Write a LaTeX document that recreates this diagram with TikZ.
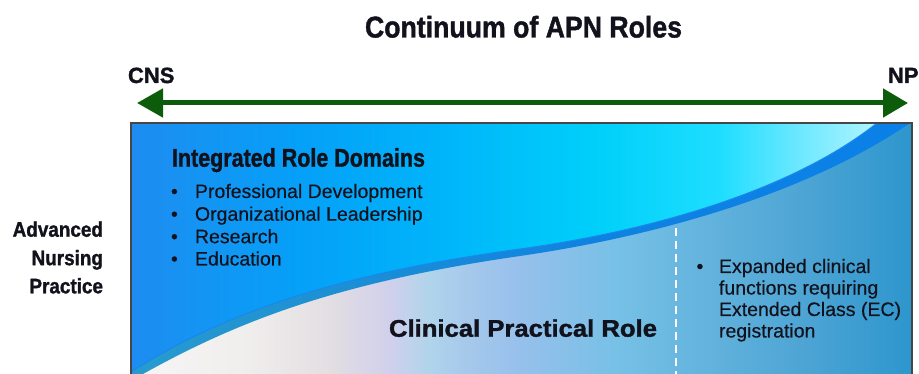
\documentclass[tikz,border=0pt]{standalone}
\usepackage{fontspec}
\setmainfont{Liberation Sans}
\newfontfamily\heavyfont{Liberation Sans}[BoldFeatures={FakeBold=1.4}]
\newfontfamily\bodyfont{Liberation Sans}[FakeBold=0.35]
\usetikzlibrary{arrows.meta}

% palette
\definecolor{ink}{RGB}{18,18,28}
\definecolor{arrowgreen}{RGB}{12,92,12}
\definecolor{frame}{RGB}{70,70,72}
\definecolor{edgeblue}{RGB}{25,135,235}
% upper (integrated domains) region
\definecolor{tpA}{RGB}{30,140,240}
\definecolor{tpB}{RGB}{5,160,248}
\definecolor{tpC}{RGB}{0,182,250}
\definecolor{tpD}{RGB}{0,208,250}
\definecolor{tpE}{RGB}{30,222,255}
\definecolor{tpF}{RGB}{110,232,255}
\definecolor{tpG}{RGB}{175,245,255}
\definecolor{tpH}{RGB}{190,248,255}
% band between the two curves
\definecolor{bdA}{RGB}{40,155,205}
\definecolor{bdB}{RGB}{25,140,215}
\definecolor{bdC}{RGB}{15,130,225}
\definecolor{bdD}{RGB}{10,128,232}
% lower (clinical practice) region
\definecolor{lwA}{RGB}{247,245,245}
\definecolor{lwB}{RGB}{240,237,237}
\definecolor{lwC}{RGB}{226,222,226}
\definecolor{lwD}{RGB}{208,208,236}
\definecolor{lwE}{RGB}{175,212,235}
\definecolor{lwF}{RGB}{165,200,235}
\definecolor{lwG}{RGB}{150,192,236}
\definecolor{lwH}{RGB}{118,192,230}
\definecolor{lwI}{RGB}{100,180,222}
\definecolor{lwJ}{RGB}{78,165,212}
\definecolor{lwK}{RGB}{45,150,205}

% stops in the 25bp..75bp window, which spans the box width
\pgfdeclarehorizontalshading{topsh}{100bp}{color(0bp)=(tpA); color(25bp)=(tpA);
  color(35.82bp)=(tpB); color(45.42bp)=(tpC); color(55.02bp)=(tpD);
  color(62.71bp)=(tpE); color(67.83bp)=(tpF); color(72.76bp)=(tpG);
  color(75bp)=(tpH); color(100bp)=(tpH)}
\pgfdeclarehorizontalshading{bandsh}{100bp}{color(0bp)=(bdA); color(25bp)=(bdA);
  color(42.2bp)=(bdB); color(55bp)=(bdC); color(75bp)=(bdD); color(100bp)=(bdD)}
\pgfdeclarehorizontalshading{lowsh}{100bp}{color(0bp)=(lwA); color(25bp)=(lwA);
  color(32.62bp)=(lwB); color(37.74bp)=(lwC); color(41.58bp)=(lwD);
  color(44.14bp)=(lwE); color(46.7bp)=(lwF); color(49.9bp)=(lwG);
  color(56.31bp)=(lwH); color(61.43bp)=(lwI); color(67.83bp)=(lwJ);
  color(75bp)=(lwK); color(100bp)=(lwK)}

\newcommand\fitwidth[2]{\resizebox{#1}{\height}{#2}}
\newcommand\itemdot[1]{\makebox[#1][l]{\textbullet}}

\begin{document}
\begin{tikzpicture}[x=1pt,y=-1pt,
    lbl/.style={inner sep=0pt, outer sep=0pt, anchor=base west, text=ink},
    lblr/.style={lbl, anchor=base east},
    heavy/.style={font=\heavyfont\bfseries\fontsize{22}{22}\selectfont},
    side/.style={font=\heavyfont\bfseries\fontsize{21}{21}\selectfont},
    body/.style={font=\bodyfont\fontsize{19.5}{19.5}\selectfont},
    greenarrow/.style={draw=arrowgreen, line width=5pt,
      {Triangle[length=26pt,width=28pt]}-{Triangle[length=25pt,width=28pt]}},
    frameline/.style={draw=frame, line width=1.5pt},
    divider/.style={draw=white, line width=2.6pt, dash pattern=on 8pt off 5pt}]
  \useasboundingbox (0,0) rectangle (919,374);

  % ---- the three filled regions of the box ----
  \shade[shading=lowsh] (131,123) rectangle (912,380);
  \begin{scope}
    \clip (143,374) .. controls (240,320) and (340,282) .. (520,256)
          .. controls (620,241.6) and (790,205) .. (910,123)
          -- (131,123) -- (131,380) -- (143,380) -- cycle;
    \shade[shading=bandsh] (131,123) rectangle (912,380);
  \end{scope}
  \begin{scope}
    \clip (131,372) .. controls (220,315) and (330,275) .. (520,249)
          .. controls (620,235.3) and (780,200) .. (877,123)
          -- (131,123) -- cycle;
    \shade[shading=topsh] (131,123) rectangle (912,380);
  \end{scope}
  \draw[edgeblue, line width=1pt] (131,372) .. controls (220,315) and (330,275) .. (520,249)
          .. controls (620,235.3) and (780,200) .. (877,123);

  % ---- dashed divider ----
  \coordinate (divTop) at (676,228);
  \coordinate (divBot) at (676,376);
  \draw[divider] (divTop) -- (divBot);

  % ---- frame ----
  \draw[frameline] (131,380) -- (131,123) -- (912,123) -- (912,380);

  % ---- continuum arrow ----
  \coordinate (arrL) at (137,103);
  \coordinate (arrR) at (908,103);
  \draw[greenarrow] (arrL) -- (arrR);

  % ---- titles and labels ----
  \node[lbl, font=\heavyfont\bfseries\fontsize{30}{30}\selectfont] (title) at (365,37.5)
    {\fitwidth{317pt}{Continuum of APN Roles}};
  \node[lbl, heavy] (cns) at (128,83) {CNS};
  \node[lbl, heavy] (np) at (888,83) {NP};

  \node[lblr, side] (adv1) at (103,236.7) {\scalebox{0.9}[1]{Advanced}};
  \node[lblr, side] (adv2) at (103,265.2) {\scalebox{0.9}[1]{Nursing}};
  \node[lblr, side] (adv3) at (103,293.3) {\scalebox{0.9}[1]{Practice}};

  % ---- integrated role domains ----
  \node[lbl, font=\heavyfont\bfseries\fontsize{25.6}{25.6}\selectfont] (domains) at (172,166.7)
    {\fitwidth{253pt}{Integrated Role Domains}};
  \node[lbl, body] (dom1) at (171,198) {\itemdot{24pt}Professional Development};
  \node[lbl, body] (dom2) at (171,220.7) {\itemdot{24pt}Organizational Leadership};
  \node[lbl, body] (dom3) at (171,243.2) {\itemdot{24pt}Research};
  \node[lbl, body] (dom4) at (171,265.5) {\itemdot{24pt}Education};

  % ---- clinical practical role ----
  \node[lbl, font=\heavyfont\bfseries\fontsize{24}{24}\selectfont] (clinical) at (389,336.7)
    {\fitwidth{268pt}{Clinical Practical Role}};

  % ---- extended class note ----
  \node[lbl, body] (ec1) at (696.5,273) {\itemdot{22.5pt}Expanded clinical};
  \node[lbl, body] (ec2) at (719,294.5) {functions requiring};
  \node[lbl, body] (ec3) at (719,316) {Extended Class (EC)};
  \node[lbl, body] (ec4) at (719,337.5) {registration};
\end{tikzpicture}
\end{document}
